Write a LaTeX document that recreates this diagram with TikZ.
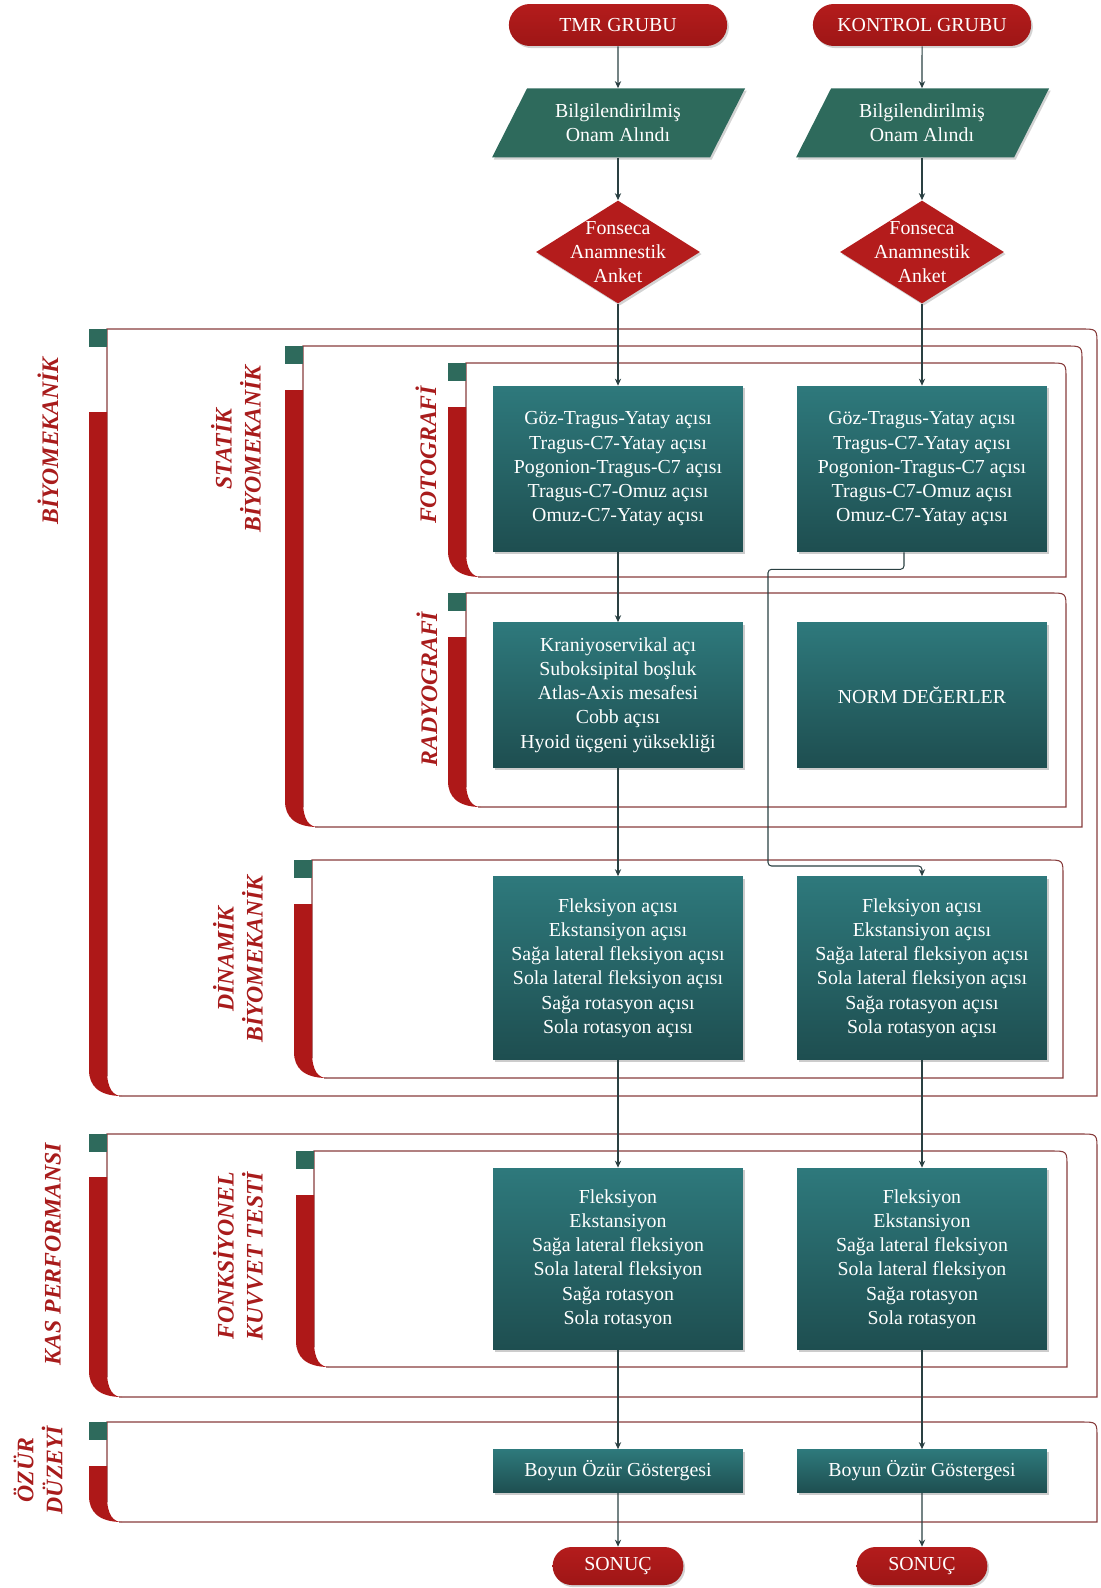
\documentclass[tikz,border=0pt]{standalone}
\usepackage{fontspec}
\setmainfont{Liberation Serif}
\usepackage{tikz}
\usetikzlibrary{positioning}
\usetikzlibrary{arrows.meta,shapes.geometric,shapes.misc,shadows,backgrounds,calc}

\definecolor{termred}{RGB}{180,28,28}
\definecolor{termdark}{RGB}{158,22,22}
\definecolor{boxtop}{RGB}{46,121,124}
\definecolor{boxbot}{RGB}{30,78,80}
\definecolor{onamgreen}{RGB}{46,106,92}
\definecolor{frameline}{RGB}{135,60,60}
\definecolor{barred}{RGB}{174,24,24}
\definecolor{labelred}{RGB}{168,28,28}
\definecolor{linedark}{RGB}{42,64,66}

\newcommand{\boxfont}{\fontsize{11.3}{13.8}\selectfont}
\newcommand{\sidefont}{\fontsize{13.5}{16.5}\selectfont\bfseries\itshape}

\begin{document}
\begin{tikzpicture}[x=0.02cm, y=-0.02cm,
    term/.style={rounded rectangle, minimum height=0.84cm, minimum width=4.6cm, top color=termred, bottom color=termdark, drop shadow={opacity=0.35,shadow xshift=1pt,shadow yshift=-1.2pt}},
    onam/.style={rectangle, minimum width=4.36cm, minimum height=1.38cm, inner sep=0pt},
    fonq/.style={diamond, minimum width=3.28cm, minimum height=2.06cm, inner sep=0pt, fill=termred, drop shadow={opacity=0.35,shadow xshift=1pt,shadow yshift=-1.2pt}},
    box/.style={rectangle, minimum width=5cm, top color=boxtop, bottom color=boxbot, drop shadow={opacity=0.4,shadow xshift=1.2pt,shadow yshift=-1.2pt}},
    conn/.style={->, draw=linedark, line width=0.6pt}]
    \useasboundingbox (0,0) rectangle (1101,1588);
    %Frames
    \foreach \xl/\yt/\xr/\yb/\yr in {89/329/1097/1096/412, 285/346/1082/827/390, 448/363/1066/577/407, 448/593/1066/807/637, 294/860/1063/1078/904, 89/1134/1097/1397/1177, 296/1151/1067/1367/1195, 89/1422/1097/1522/1466}{
        \draw[frameline, line width=0.6pt] (\xl+18,\yb-20) -- (\xl+18,\yt) -- (\xr-16,\yt) .. controls (\xr,\yt) .. (\xr,\yt+16) -- (\xr,\yb) -- (\xl+30,\yb);
        \fill[onamgreen] (\xl,\yt) rectangle (\xl+18,\yt+18);
        \fill[barred] (\xl,\yr) -- (\xl,\yb-26) .. controls (\xl,\yb-10) and (\xl+10,\yb) .. (\xl+33,\yb) .. controls (\xl+25,\yb) and (\xl+18,\yb-6) .. (\xl+18,\yb-26) -- (\xl+18,\yr) -- cycle;
    }
    %Side labels
    \begin{scope}[every node/.style={rotate=90, align=center, text=labelred, font=\sidefont}]
        \node (biyo) at (48,441) {BİYOMEKANİK};
        \node (statik) at (236,449) {STATİK\\BİYOMEKANİK};
        \node (foto) at (426,455) {FOTOGRAFİ};
        \node (radyo) at (427,689) {RADYOGRAFİ};
        \node (dinamik) at (238,959) {DİNAMİK\\BİYOMEKANİK};
        \node (kas) at (53,1254) {KAS PERFORMANSI};
        \node (kuvvet) at (238,1256) {FONKSİYONEL\\KUVVET TESTİ};
        \node (ozur) at (38,1470) {ÖZÜR\\DÜZEYİ};
    \end{scope}
    %Steps
    \begin{scope}[every node/.style={align=center, text=white, font=\boxfont}]
        \node[term] (t1) at (618,25) {TMR GRUBU};
        \node[term] (t2) at (922,25) {KONTROL GRUBU};
        \node[onam] (o1) at (618,123) {Bilgilendirilmiş\\Onam Alındı};
        \node[onam] (o2) at (922,123) {Bilgilendirilmiş\\Onam Alındı};
        \node[fonq, label={center:Fonseca\\Anamnestik\\Anket}] (a1) at (618,252) {};
        \node[fonq, label={center:Fonseca\\Anamnestik\\Anket}] (a2) at (922,252) {};
        \node[box, minimum height=3.32cm] (f1) at (618,469) {Göz-Tragus-Yatay açısı\\Tragus-C7-Yatay açısı\\Pogonion-Tragus-C7 açısı\\Tragus-C7-Omuz açısı\\Omuz-C7-Yatay açısı};
        \node[box, minimum height=3.32cm] (f2) at (922,469) {Göz-Tragus-Yatay açısı\\Tragus-C7-Yatay açısı\\Pogonion-Tragus-C7 açısı\\Tragus-C7-Omuz açısı\\Omuz-C7-Yatay açısı};
        \node[box, minimum height=2.9cm] (r1) at (618,695) {Kraniyoservikal açı\\Suboksipital boşluk\\Atlas-Axis mesafesi\\Cobb açısı\\Hyoid üçgeni yüksekliği};
        \node[box, minimum height=2.9cm] (r2) at (922,695) {NORM DEĞERLER};
        \node[box, minimum height=3.66cm] (d1) at (618,968) {Fleksiyon açısı\\Ekstansiyon açısı\\Sağa lateral fleksiyon açısı\\Sola lateral fleksiyon açısı\\Sağa rotasyon açısı\\Sola rotasyon açısı};
        \node[box, minimum height=3.66cm] (d2) at (922,968) {Fleksiyon açısı\\Ekstansiyon açısı\\Sağa lateral fleksiyon açısı\\Sola lateral fleksiyon açısı\\Sağa rotasyon açısı\\Sola rotasyon açısı};
        \node[box, minimum height=3.64cm] (k1) at (618,1259) {Fleksiyon\\Ekstansiyon\\Sağa lateral fleksiyon\\Sola lateral fleksiyon\\Sağa rotasyon\\Sola rotasyon};
        \node[box, minimum height=3.64cm] (k2) at (922,1259) {Fleksiyon\\Ekstansiyon\\Sağa lateral fleksiyon\\Sola lateral fleksiyon\\Sağa rotasyon\\Sola rotasyon};
        \node[box, minimum height=0.86cm] (z1) at (618,1471) {Boyun Özür Göstergesi};
        \node[box, minimum height=0.86cm] (z2) at (922,1471) {Boyun Özür Göstergesi};
        \node[term, minimum width=2.85cm, minimum height=0.76cm] (s1) at (618,1566) {SONUÇ};
        \node[term, minimum width=2.85cm, minimum height=0.76cm] (s2) at (922,1566) {SONUÇ};
    \end{scope}
    \begin{scope}[on background layer]
        \foreach \o in {o1,o2}
            \fill[onamgreen, drop shadow={opacity=0.35,shadow xshift=1pt,shadow yshift=-1.2pt}] ($(\o.center)+(-126,34.5)$) -- ($(\o.center)+(92,34.5)$) -- ($(\o.center)+(127,-34.5)$) -- ($(\o.center)+(-91,-34.5)$) -- cycle;
    \end{scope}
    \coordinate (bend) at (768,866);
    %Lines
    \begin{scope}[>={Stealth[length=4pt,width=3.6pt]}]
        \draw[conn] (t1) -- (o1);
        \draw[conn] (o1) -- (a1);
        \draw[conn] (a1) -- (f1);
        \draw[conn] (f1) -- (r1);
        \draw[conn] (r1) -- (d1);
        \draw[conn] (d1) -- (k1);
        \draw[conn] (k1) -- (z1);
        \draw[conn] (z1) -- (s1);
        \draw[conn] (t2) -- (o2);
        \draw[conn] (o2) -- (a2);
        \draw[conn] (a2) -- (f2);
        \draw[conn, rounded corners=2pt] ($(f2.south)+(-18,0)$) -- ++(0,17) -| (bend) -| (d2.north);
        \draw[conn] (d2) -- (k2);
        \draw[conn] (k2) -- (z2);
        \draw[conn] (z2) -- (s2);
    \end{scope}
\end{tikzpicture}
\end{document}
